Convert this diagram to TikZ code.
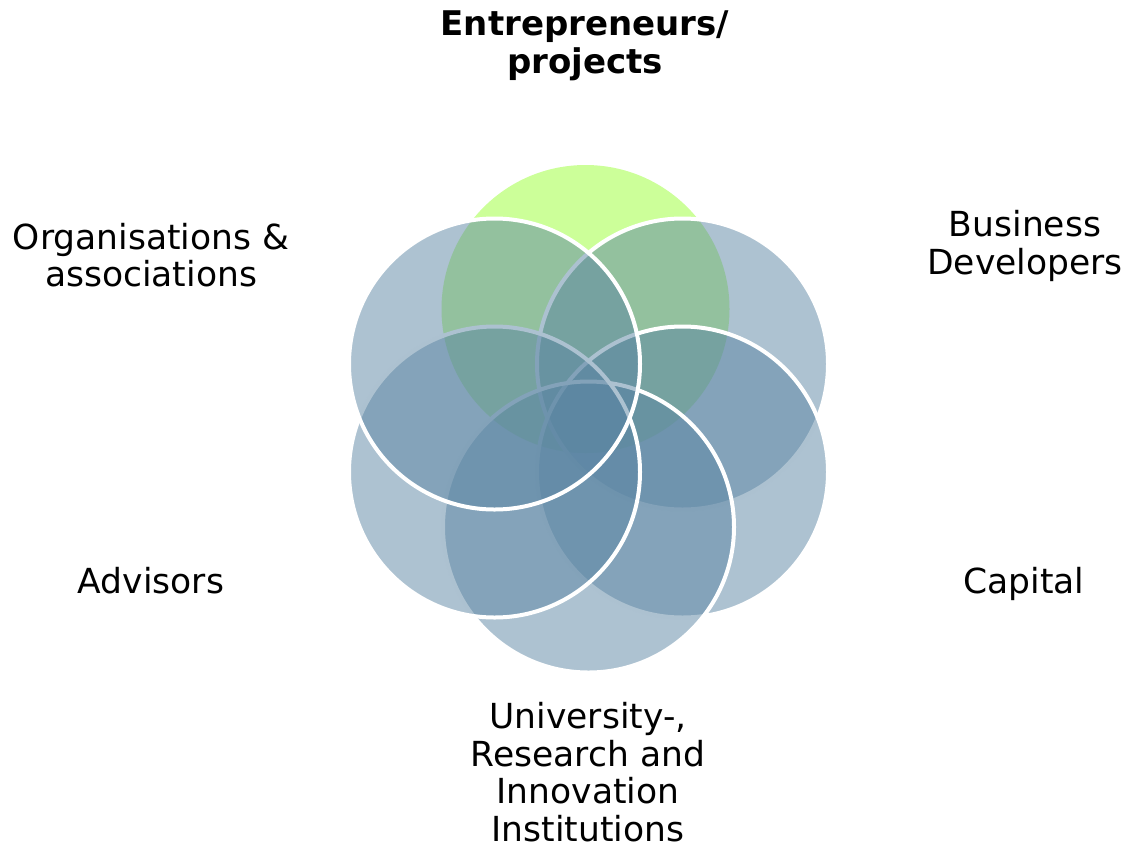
\documentclass[tikz,border=0pt]{standalone}
\usepackage{fontspec}
\setmainfont{DejaVu Sans}
\definecolor{petal}{RGB}{91,133,163}
\definecolor{leaf}{RGB}{204,255,153}
\begin{document}
\begin{tikzpicture}[x=1pt,y=-1pt,
  petalc/.style={fill=petal,fill opacity=0.5,draw=white,draw opacity=1,line width=4pt},
  leafc/.style={fill=leaf},
  lbl/.style={align=center,inner sep=0pt,font=\fontsize{34.5}{37.5}\selectfont},
  lblb/.style={align=center,inner sep=0pt,font=\fontsize{34}{37.5}\selectfont\bfseries}]
\useasboundingbox (0,0) rectangle (1124,847);
\path[leafc] (585.5,309) circle[radius=144];
\path[petalc] (682.5,364) circle[radius=145.5];
\path[petalc] (682.5,472) circle[radius=145.5];
\path[petalc] (588.5,527) circle[radius=145.5];
\path[petalc] (494.5,472) circle[radius=145.5];
\path[petalc] (494.5,364) circle[radius=145.5];
\node[lblb] (ent) at (585,46) {Entrepreneurs/\\projects};
\node[lbl] (org) at (151,255) {Organisations \&\\associations};
\node[lbl] (bus) at (1025,246) {Business\\Developers};
\node[lbl] (adv) at (151,581) {Advisors};
\node[lbl] (cap) at (1024,584) {Capital};
\node[lbl] (uni) at (588,772) {University-,\\Research and\\Innovation\\Institutions};
\end{tikzpicture}
\end{document}
